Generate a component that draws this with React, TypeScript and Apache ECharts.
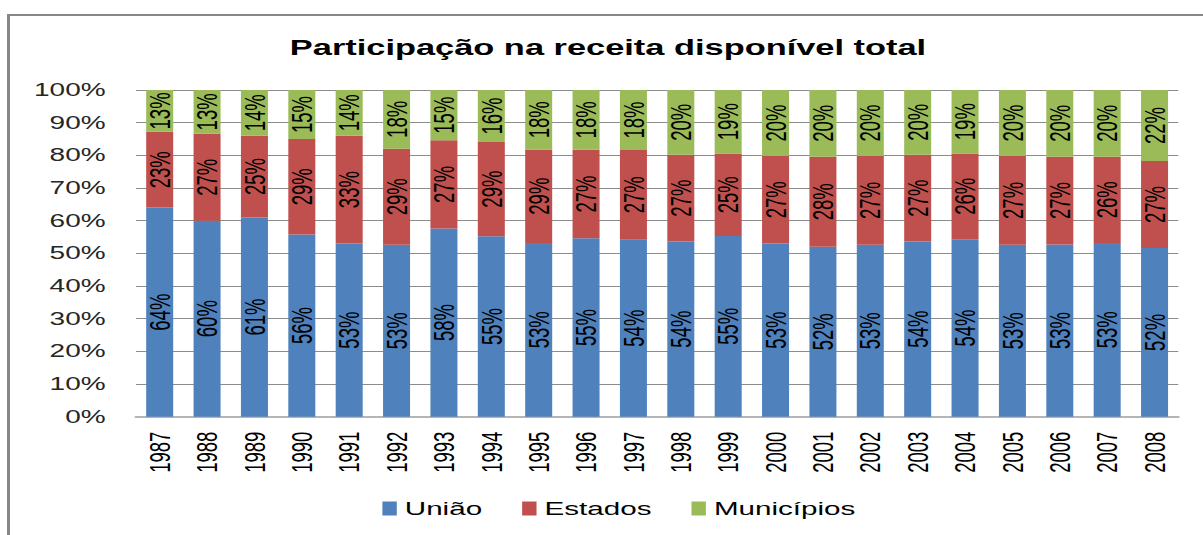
import React, { useEffect, useRef } from "react";
import * as echarts from "echarts";

const years = ["1987","1988","1989","1990","1991","1992","1993","1994","1995","1996","1997","1998","1999","2000","2001","2002","2003","2004","2005","2006","2007","2008"];
const uniao = [64.0, 60.0, 61.0, 55.8, 53.0, 52.6, 57.6, 55.2, 53.2, 54.6, 54.2, 53.6, 55.3, 53.0, 52.0, 52.6, 53.6, 54.3, 52.6, 52.7, 53.2, 51.6];
const estados = [23.2, 26.6, 25.0, 29.2, 33.0, 29.4, 27.0, 28.9, 28.6, 27.1, 27.4, 26.6, 25.3, 26.8, 27.6, 27.2, 26.6, 26.3, 27.2, 26.9, 26.4, 26.7];
const municipios = [12.8, 13.4, 14.0, 15.0, 14.0, 18.0, 15.4, 15.9, 18.2, 18.3, 18.4, 19.8, 19.4, 20.2, 20.4, 20.2, 19.8, 19.4, 20.2, 20.4, 20.4, 21.7];
const seriesNames = ["União", "Estados", "Municípios"];
const colors = ["#4F81BD", "#C0504D", "#9BBB59"];

const S = 1.6; // horizontal stretch of the reference picture
const PAGE_W = 1203;
const PAGE_H = 535;
const FONT = "'Liberation Sans', Arial, sans-serif";

export default function App() {
  const ref = useRef<HTMLDivElement>(null);
  useEffect(() => {
    if (!ref.current) return;
    const chart = echarts.init(ref.current, null, { renderer: "svg" });
    const lbl = {
      show: true,
      position: "inside",
      rotate: 90,
      color: "#000",
      fontFamily: FONT,
      fontSize: 18.5,
      formatter: (p: any) => Math.round(p.value) + "%",
    };
    const data = [uniao, estados, municipios];
    chart.setOption({
      animation: false,
      backgroundColor: "transparent",
      title: {
        text: "Participação na receita disponível total",
        left: 375,
        top: 31,
        textAlign: "center",
        textStyle: { fontFamily: FONT, fontSize: 21.5, fontWeight: "bold", color: "#000" },
      },
      legend: {
        data: seriesNames,
        left: 234,
        top: 494,
        itemWidth: 9,
        itemHeight: 14,
        itemGap: 25,
        icon: "rect",
        textStyle: { fontFamily: FONT, fontSize: 18.5, color: "#000" },
      },
      grid: { left: 85, right: 15.6, top: 90, bottom: 118.3, containLabel: false },
      xAxis: {
        type: "category",
        data: years,
        axisLine: { show: true, lineStyle: { color: "#B5B5B5", width: 2 } },
        axisTick: { show: false },
        axisLabel: { rotate: 90, margin: 15, fontFamily: FONT, fontSize: 18.5, color: "#000", interval: 0 },
      },
      yAxis: {
        type: "value",
        min: 0,
        max: 100,
        interval: 10,
        axisLine: { show: false },
        axisTick: { show: false },
        axisLabel: { formatter: "{value}%", margin: 19, fontFamily: FONT, fontSize: 17.5, color: "#262626" },
        splitLine: { show: true, lineStyle: { color: "#8C8C8C", width: 1 } },
      },
      series: seriesNames.map((name, i) => ({
        name,
        type: "bar",
        stack: "total",
        barWidth: "57%",
        data: data[i],
        itemStyle: { color: colors[i] },
        label: lbl,
      })),
    });
    return () => chart.dispose();
  }, []);
  return (
    <div style={{ position: "fixed", left: 0, top: 0, width: PAGE_W, height: PAGE_H, overflow: "hidden", background: "#fff" }}>
      <div
        ref={ref}
        style={{
          position: "absolute",
          left: 0,
          top: 0,
          width: PAGE_W / S,
          height: PAGE_H,
          transform: `scaleX(${S})`,
          transformOrigin: "0 0",
        }}
      />
      <div
        style={{
          position: "absolute",
          left: 7,
          top: 14,
          width: PAGE_W - 7,
          height: PAGE_H - 14,
          borderLeft: "3px solid #878787",
          borderTop: "2px solid #878787",
          boxSizing: "border-box",
          pointerEvents: "none",
        }}
      />
    </div>
  );
}
